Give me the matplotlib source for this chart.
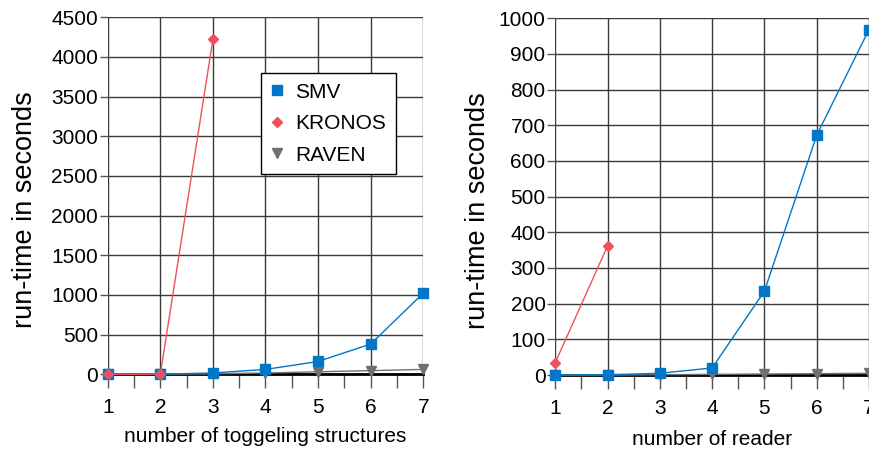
import matplotlib
matplotlib.use('Agg')
import matplotlib.pyplot as plt
from matplotlib.ticker import MultipleLocator

plt.rcParams['font.family'] = ['Liberation Sans', 'DejaVu Sans']

x = [1, 2, 3, 4, 5, 6, 7]

# left: toggling structures
smv_l = [0, 0, 15, 60, 160, 380, 1020]
kronos_l_x = [1, 2, 3]
kronos_l = [0, 0, 4220]
raven_l = [0, 0, 5, 15, 30, 45, 60]

# right: reader
smv_r = [0, 1, 5, 20, 235, 672, 968]
kronos_r_x = [1, 2]
kronos_r = [35, 362]
raven_r = [0, 0, 1, 2, 3, 4, 5]

blue = '#0077C8'
red = '#F0505A'
gray = '#707070'

fig = plt.figure(figsize=(8.69, 4.53), dpi=100)
ax1 = fig.add_axes([0.124, 0.174, 0.363, 0.788])
ax2 = fig.add_axes([0.639, 0.172, 0.361, 0.788])


def style(ax, ymax, ystep, xlabel, ylab_x, xlab_y):
    ax.set_xlim(1, 7)
    ax.set_ylim(0, ymax)
    ax.yaxis.set_major_locator(MultipleLocator(ystep))
    ax.xaxis.set_major_locator(MultipleLocator(1))
    ax.xaxis.set_minor_locator(MultipleLocator(0.5))
    ax.grid(True, which='major', color='#3a3a3a', linewidth=1)
    ax.set_axisbelow(True)
    for s in ['top', 'right', 'left']:
        ax.spines[s].set_visible(False)
    ax.spines['bottom'].set_linewidth(2)
    ax.spines['bottom'].set_color('black')
    ax.tick_params(axis='x', which='both', direction='out', length=10,
                   width=1, color='#555555', labelsize=15, pad=7)
    ax.tick_params(axis='y', direction='out', length=6, width=1,
                   color='#555555', labelsize=15, pad=1)
    ax.set_xlabel(xlabel, fontsize=15)
    ax.set_ylabel('run-time in seconds', fontsize=19.5)
    ax.yaxis.set_label_coords(ylab_x, 0.46)
    ax.xaxis.set_label_coords(0.5, xlab_y)


style(ax1, 4500, 500, 'number of toggeling structures', -0.222, -0.148)
style(ax2, 1000, 100, 'number of reader', -0.204, -0.155)

for ax, smv, kx, kr, rv in [(ax1, smv_l, kronos_l_x, kronos_l, raven_l),
                            (ax2, smv_r, kronos_r_x, kronos_r, raven_r)]:
    ax.plot(x, rv, color=gray, marker='v', markersize=7, linewidth=1,
            label='RAVEN', clip_on=False, zorder=3)
    ax.plot(x, smv, color=blue, marker='s', markersize=7.5, linewidth=1,
            label='SMV', clip_on=False, zorder=4)
    ax.plot(kx, kr, color=red, marker='D', markersize=5, linewidth=1,
            label='KRONOS', clip_on=False, zorder=5)

h, l = ax1.get_legend_handles_labels()
order = [1, 2, 0]
leg = ax1.legend([h[i] for i in order], [l[i] for i in order],
                 loc='upper left', bbox_to_anchor=(0.486, 0.843),
                 fontsize=15, frameon=True, fancybox=False,
                 edgecolor='black', framealpha=1, handlelength=0.6,
                 handletextpad=0.6, labelspacing=0.6, borderpad=0.45,
                 borderaxespad=0)
for line in leg.get_lines():
    line.set_linestyle('none')
leg.get_frame().set_linewidth(1)

fig.savefig('out.png', dpi=100)
